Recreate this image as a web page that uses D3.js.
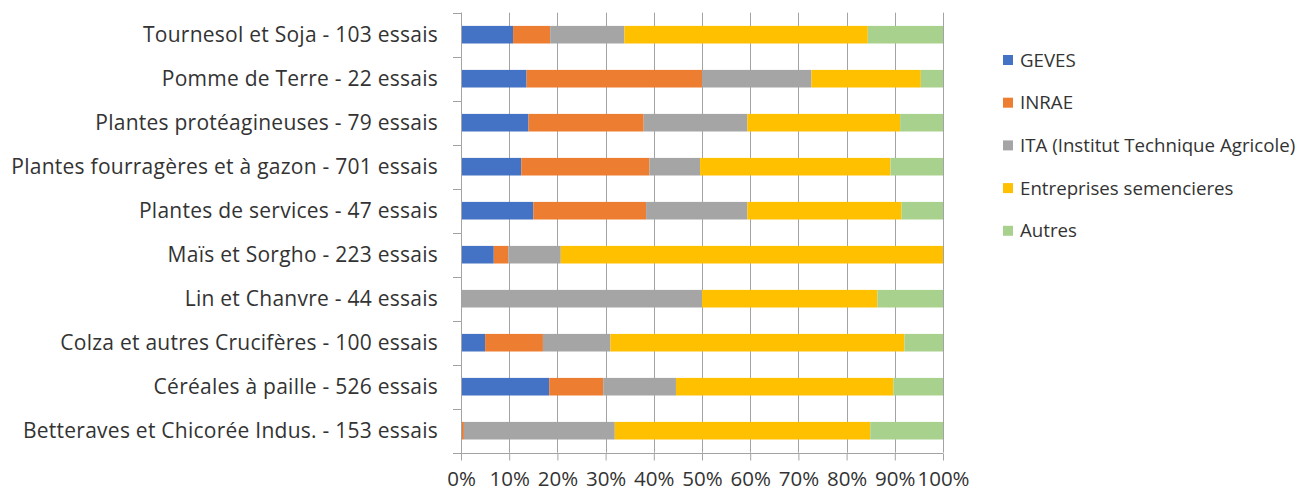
<!DOCTYPE html>
<html>
<head>
<meta charset="utf-8">
<script src="https://cdn.jsdelivr.net/npm/d3@7"></script>
<style>
  html, body { margin: 0; padding: 0; background: #fff; }
  svg { display: block; }
  text { font-family: "Open Sans", Lato, sans-serif; fill: #333; }
</style>
</head>
<body>
<svg id="chart" width="1301" height="492"></svg>
<script>
// Crop groups, top to bottom, with the number of trials in each
const categories = [
  "Tournesol et Soja - 103 essais",
  "Pomme de Terre - 22 essais",
  "Plantes protéagineuses - 79 essais",
  "Plantes fourragères et à gazon - 701 essais",
  "Plantes de services - 47 essais",
  "Maïs et Sorgho - 223 essais",
  "Lin et Chanvre - 44 essais",
  "Colza et autres Crucifères - 100 essais",
  "Céréales à paille - 526 essais",
  "Betteraves et Chicorée Indus. - 153 essais"
];

const seriesNames = [
  "GEVES",
  "INRAE",
  "ITA (Institut Technique Agricole)",
  "Entreprises semencieres",
  "Autres"
];

// Share of trials (%) per operator, one value per crop group
const geves       = [10.8, 13.6, 14.0, 12.5, 15.0,  6.8,  0.0,  5.0, 18.3,  0.0];
const inrae       = [ 7.7, 36.4, 23.9, 26.6, 23.4,  3.0,  0.0, 12.0, 11.2,  0.6];
const ita         = [15.4, 22.7, 21.5, 10.5, 21.0, 10.9, 50.0, 14.0, 15.1, 31.3];
const entreprises = [50.5, 22.7, 31.7, 39.5, 32.0, 79.3, 36.4, 61.0, 45.1, 53.0];
const autres      = [15.6,  4.6,  8.9, 10.9,  8.6,  0.0, 13.6,  8.0, 10.3, 15.1];

const xTicks = [0, 0.1, 0.2, 0.3, 0.4, 0.5, 0.6, 0.7, 0.8, 0.9, 1];

const colors = ["#4472C4", "#ED7D31", "#A5A5A5", "#FFC000", "#A9D18E"];

const rows = categories.map((c, i) => ({
  category: c,
  [seriesNames[0]]: geves[i],
  [seriesNames[1]]: inrae[i],
  [seriesNames[2]]: ita[i],
  [seriesNames[3]]: entreprises[i],
  [seriesNames[4]]: autres[i]
}));

const stacked = d3.stack()
  .keys(seriesNames)
  .offset(d3.stackOffsetExpand)(rows);

const svg = d3.select("#chart");

const plot = { left: 461, right: 943, top: 12.7, bottom: 452.7 };

const x = d3.scaleLinear().domain([0, 1]).range([plot.left, plot.right]);
const y = d3.scaleBand()
  .domain(categories)
  .range([plot.top, plot.bottom])
  .paddingInner(0.6)
  .paddingOuter(0.3);

const color = d3.scaleOrdinal().domain(seriesNames).range(colors);
const axisColor = "#A3A3A3";

// Vertical gridlines
svg.append("g")
  .selectAll("line")
  .data(xTicks)
  .join("line")
  .attr("x1", d => Math.round(x(d)) + 0.5)
  .attr("x2", d => Math.round(x(d)) + 0.5)
  .attr("y1", plot.top)
  .attr("y2", plot.bottom)
  .attr("stroke", axisColor)
  .attr("stroke-width", 1);

// Stacked bars
svg.append("g")
  .selectAll("g")
  .data(stacked)
  .join("g")
  .attr("fill", d => color(d.key))
  .selectAll("rect")
  .data(d => d)
  .join("rect")
  .attr("x", d => x(d[0]))
  .attr("y", d => y(d.data.category))
  .attr("width", d => Math.max(0, x(d[1]) - x(d[0])))
  .attr("height", y.bandwidth());

// Category axis: line with ticks between bands
const catAxis = svg.append("g");
catAxis.append("line")
  .attr("x1", plot.left + 0.5).attr("x2", plot.left + 0.5)
  .attr("y1", plot.top).attr("y2", plot.bottom)
  .attr("stroke", axisColor);
const bounds = d3.range(categories.length + 1).map(i => plot.top + i * y.step());
catAxis.selectAll("line.tick")
  .data(bounds)
  .join("line")
  .attr("class", "tick")
  .attr("x1", plot.left - 8).attr("x2", plot.left)
  .attr("y1", d => Math.round(d) + 0.5).attr("y2", d => Math.round(d) + 0.5)
  .attr("stroke", axisColor);
catAxis.selectAll("text")
  .data(categories)
  .join("text")
  .attr("x", 438)
  .attr("y", d => y(d) + y.bandwidth() / 2 + 7.5)
  .attr("text-anchor", "end")
  .style("font-size", "21px")
  .style("letter-spacing", "0.25px")
  .text(d => d);

// Percentage axis along the bottom
const xAxis = d3.axisBottom(x)
  .tickValues(xTicks)
  .tickFormat(d3.format(".0%"))
  .tickSize(7)
  .tickPadding(11)
  .tickSizeOuter(0);
const gx = svg.append("g")
  .attr("transform", `translate(0,${Math.round(plot.bottom) + 0.5})`)
  .call(xAxis);
gx.select(".domain").remove();
gx.append("line")
  .attr("x1", plot.left - 8).attr("x2", plot.right)
  .attr("stroke", axisColor);
gx.selectAll(".tick line").attr("stroke", axisColor);
gx.selectAll(".tick text")
  .attr("fill", "#333")
  .style("font-family", "'Open Sans', sans-serif")
  .style("font-size", "20.5px");

// Legend
const legend = svg.append("g")
  .selectAll("g")
  .data(seriesNames)
  .join("g")
  .attr("transform", (d, i) => `translate(1003,${60 + i * 42.7})`);
legend.append("rect")
  .attr("x", 0).attr("y", -5)
  .attr("width", 10).attr("height", 10)
  .attr("fill", d => color(d));
legend.append("text")
  .attr("x", 17)
  .attr("y", 6.5)
  .style("font-size", "18.7px")
  .text(d => d);
</script>
</body>
</html>
